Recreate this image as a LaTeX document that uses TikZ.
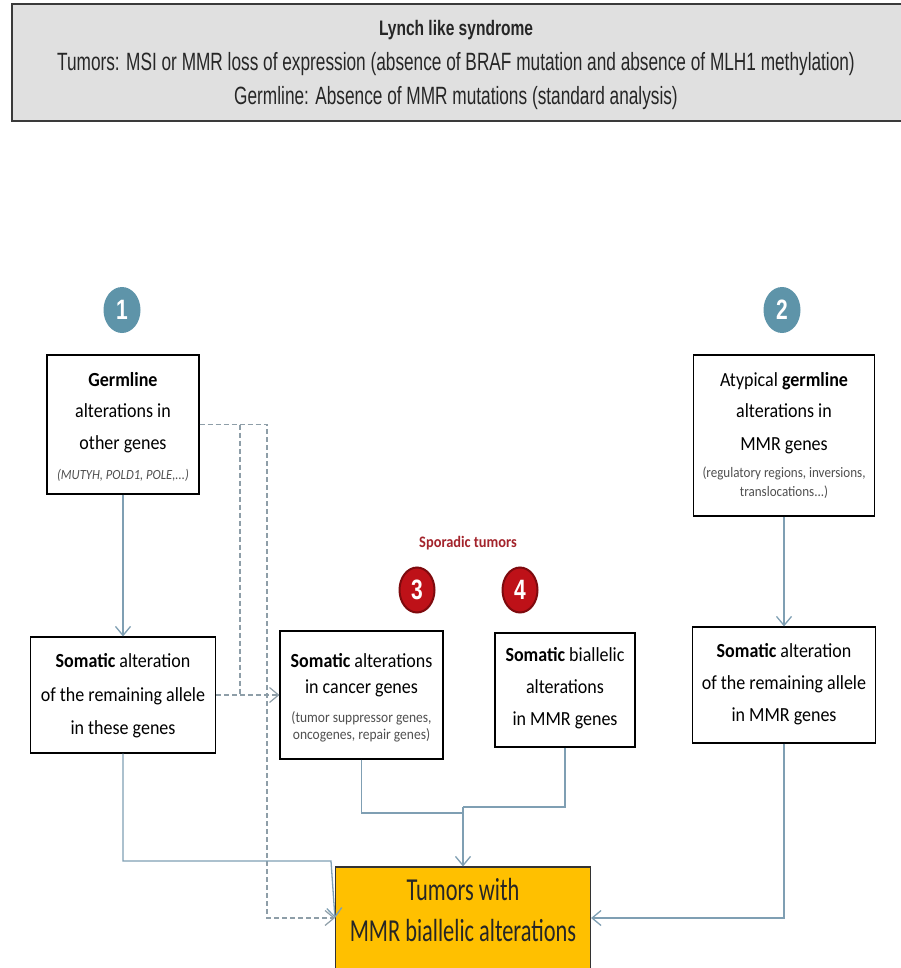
\documentclass[tikz,border=0pt]{standalone}
\usepackage{fontspec}
\setmainfont{Carlito}[FakeStretch=0.9]
\newfontfamily\bigfont{Carlito}[FakeStretch=0.7]
\newfontfamily\hdrfont{Liberation Sans}[FakeStretch=0.69]
\newfontfamily\hdrbold{Liberation Sans}[FakeStretch=0.74]
\newfontfamily\numfont{Liberation Sans}[FakeStretch=0.75]
\usetikzlibrary{arrows.meta,shapes.geometric}
\definecolor{connc}{HTML}{7F9FB3}
\definecolor{dashc}{HTML}{8E9EA8}
\definecolor{hdrfill}{HTML}{E0E0E0}
\definecolor{hdrline}{HTML}{3A3A3A}
\definecolor{blueball}{HTML}{5E94A9}
\definecolor{redball}{HTML}{BE1118}
\definecolor{redring}{HTML}{7E0A0E}
\definecolor{sporc}{HTML}{A3232B}
\definecolor{gold}{HTML}{FFC000}
\definecolor{smallc}{HTML}{505050}
\begin{document}
\begin{tikzpicture}[x=1pt,y=-1pt,
  box/.style={draw=black,line width=1.1pt,fill=white,inner sep=0pt},
  txt/.style={inner sep=0pt,anchor=mid,font=\fontsize{20}{24}\selectfont},
  small/.style={inner sep=0pt,anchor=mid,text=smallc,font=\fontsize{14}{16}\selectfont},
  htxt/.style={inner sep=0pt,anchor=mid,text=black!85,font=\hdrfont\fontsize{25}{28}\selectfont},
  otxt/.style={inner sep=0pt,anchor=mid,text=black!85,font=\bigfont\fontsize{32}{36}\selectfont},
  bball/.style={ellipse,fill=blueball,minimum width=37pt,minimum height=46pt,inner sep=0pt,text=white,font=\numfont\bfseries\fontsize{28}{28}\selectfont},
  rball/.style={ellipse,fill=redball,draw=redring,line width=2pt,minimum width=35pt,minimum height=45pt,inner sep=0pt,text=white,font=\numfont\bfseries\fontsize{28}{28}\selectfont},
  cline/.style={draw=connc,line width=1.3pt},
  arr/.style={cline,-{Straight Barb[length=9pt,width=15pt]}},
  dline/.style={draw=dashc,line width=1.2pt,dash pattern=on 5pt off 3pt},
  darr/.style={dline,-{Straight Barb[length=9pt,width=15pt]}},
]
\useasboundingbox (0,0) rectangle (900,968);

% header
\node[draw=hdrline,line width=2pt,fill=hdrfill,minimum width=890pt,minimum height=117pt,inner sep=0pt] (hdr) at (457,62.5) {};
\node[htxt,font=\hdrbold\bfseries\fontsize{21}{24}\selectfont] (h1) at (456,33) {Lynch like syndrome};
\node[htxt] (h2) at (456,68) {Tumors: MSI or MMR loss of expression (absence of BRAF mutation and absence of MLH1 methylation)};
\node[htxt] (h3) at (456,102) {Germline: Absence of MMR mutations (standard analysis)};

% number badges
\node[bball] (c1) at (122,310) {1};
\node[bball] (c2) at (782,310) {2};
\node[rball] (c3) at (417,590) {3};
\node[rball] (c4) at (520,590) {4};
\node[inner sep=0pt,anchor=mid,text=sporc,font=\bfseries\fontsize{16}{18}\selectfont] (sp) at (468,545) {Sporadic tumors};

% boxes
\node[box,minimum width=152pt,minimum height=139pt] (g) at (123,424.5) {};
\node[txt] (g1) at (123,384) {\bfseries Germline};
\node[txt] (g2) at (123,415) {alterations in};
\node[txt] (g3) at (123,447) {other genes};
\node[small,font=\fontsize{14}{16}\selectfont\itshape] (g4) at (123,477) {(MUTYH, POLD1, POLE,...)};

\node[box,minimum width=181pt,minimum height=161pt] (a) at (784,435.5) {};
\node[txt] (a1) at (784,384) {Atypical \textbf{germline}};
\node[txt] (a2) at (784,415) {alterations in};
\node[txt] (a3) at (784,448) {MMR genes};
\node[small,font=\fontsize{14.5}{16}\selectfont] (a4) at (784,475) {(regulatory regions, inversions,};
\node[small,font=\fontsize{14.5}{16}\selectfont] (a5) at (784,494) {translocations...)};

\node[box,minimum width=185pt,minimum height=116pt] (ls) at (123,695) {};
\node[txt] (l1) at (123,665) {\textbf{Somatic} alteration};
\node[txt] (l2) at (123,699) {of the remaining allele};
\node[txt] (l3) at (123,732) {in these genes};

\node[box,minimum width=163pt,minimum height=128pt] (b3) at (361.5,695) {};
\node[txt] (s1) at (361.5,665) {\textbf{Somatic} alterations};
\node[txt] (s2) at (361.5,691) {in cancer genes};
\node[small,font=\fontsize{15}{17}\selectfont] (s3) at (361.5,720) {(tumor suppressor genes,};
\node[small,font=\fontsize{15}{17}\selectfont] (s4) at (361.5,737) {oncogenes, repair genes)};

\node[box,minimum width=140pt,minimum height=114pt] (b4) at (565,690) {};
\node[txt] (t1) at (565,659) {\textbf{Somatic} biallelic};
\node[txt] (t2) at (565,691) {alterations};
\node[txt] (t3) at (565,723) {in MMR genes};

\node[box,minimum width=183pt,minimum height=116pt] (rs) at (784,685) {};
\node[txt] (r1) at (784,655) {\textbf{Somatic} alteration};
\node[txt] (r2) at (784,687) {of the remaining allele};
\node[txt] (r3) at (784,719) {in MMR genes};

\node[draw=black!80,line width=1.1pt,fill=gold,minimum width=255pt,minimum height=102pt,inner sep=0pt] (o) at (463,918) {};
\node[otxt] (o1) at (463,898) {Tumors with};
\node[otxt] (o2) at (463,939) {MMR biallelic alterations};

% connectors
\coordinate (dj) at (240,695);
\coordinate (dk) at (267,918);
\coordinate (lk) at (331,861);
\coordinate (m1) at (463,813);
\coordinate (m2) at (463,807);

\draw[arr] (g.south) -- (ls.north);
\draw[arr] (a.south) -- (rs.north);
\draw[dline] (dj |- g.east) -- (dj);
\draw[darr] (g.east) -| (dk) -- (o.west);
\draw[darr] (ls.east) -- (b3.west);
\draw[arr] (ls.south) |- (lk) -- (o.west);
\draw[cline] (b3.south) |- (m1);
\draw[cline] (b4.south) |- (m2);
\draw[arr] (m2) -- (o.north);
\draw[arr] (rs.south) |- (o.east);
\end{tikzpicture}
\end{document}
